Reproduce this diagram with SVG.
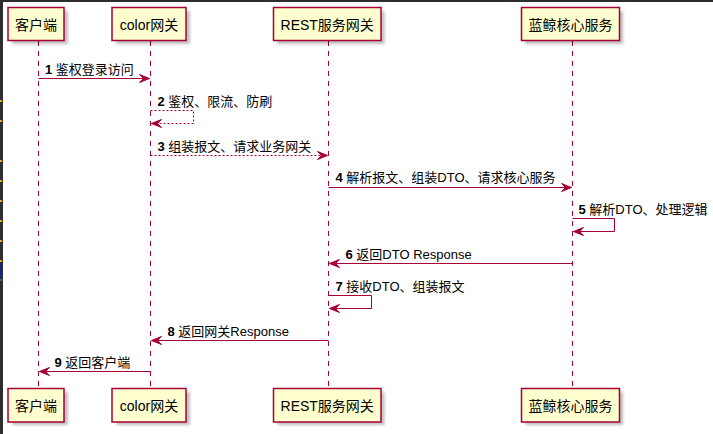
<svg xmlns="http://www.w3.org/2000/svg" width="713" height="434" viewBox="0 0 713 434">
<style>
.box{fill:#FEFECE;stroke:#A80036;stroke-width:1.5}
.shadow{fill:#000;opacity:0.25}
.life{stroke:#A80036;stroke-width:1;stroke-dasharray:5,5;fill:none}
.msg{stroke:#A80036;stroke-width:1;fill:none}
.dash{stroke-dasharray:2,2}
.head{fill:#A80036;stroke:#A80036;stroke-width:1}
.pt{font-family:"Liberation Sans","Noto Sans CJK SC",sans-serif;font-size:14px;fill:#000;text-anchor:middle}
.lt{font-family:"Liberation Sans","Noto Sans CJK SC",sans-serif;font-size:13px;fill:#000}
.num{font-weight:bold}
</style>
<defs>
<filter id="blur" x="-20%" y="-20%" width="140%" height="140%"><feGaussianBlur stdDeviation="1.5"/></filter>
</defs>
<rect x="0" y="0" width="713" height="434" fill="#FFFFFF"/>
<rect x="0" y="0" width="713" height="2" fill="#2d2d2d"/>
<rect x="0" y="0" width="3" height="434" fill="#2d2d2d"/>
<g id="edge-marks" fill="#E8A317">
<rect x="0" y="100" width="2" height="2"/>
<rect x="0" y="120" width="2" height="2"/>
<rect x="0" y="160" width="2" height="2"/>
<rect x="0" y="180" width="2" height="2"/>
<rect x="0" y="200" width="2" height="2"/>
<rect x="0" y="220" width="2" height="2"/>
<rect x="0" y="240" width="2" height="2"/>
<rect x="0" y="260" width="2" height="2"/>
<rect x="0" y="263" width="2" height="16" fill="#1a237e"/>
<rect x="0" y="279" width="2" height="2" fill="#2e7d32"/>
</g>
<g id="lifelines">
<line class="life" x1="38.5" y1="41" x2="38.5" y2="388"/>
<line class="life" x1="150.5" y1="41" x2="150.5" y2="388"/>
<line class="life" x1="328.5" y1="41" x2="328.5" y2="388"/>
<line class="life" x1="572.5" y1="41" x2="572.5" y2="388"/>
</g>
<g id="p-client">
<rect class="shadow" filter="url(#blur)" x="12" y="11" width="56" height="33"/>
<rect class="box" x="8" y="7.5" width="56" height="33"/>
<text class="pt" x="36" y="29.5">客户端</text>
<rect class="shadow" filter="url(#blur)" x="12" y="392" width="56" height="33"/>
<rect class="box" x="8" y="388.5" width="56" height="33.5"/>
<text class="pt" x="36" y="410.5">客户端</text>
</g>
<g id="p-color">
<rect class="shadow" filter="url(#blur)" x="116" y="11" width="74" height="33"/>
<rect class="box" x="112" y="7.5" width="74" height="33"/>
<text class="pt" x="149" y="29.5">color网关</text>
<rect class="shadow" filter="url(#blur)" x="116" y="392" width="74" height="33"/>
<rect class="box" x="112" y="388.5" width="74" height="33.5"/>
<text class="pt" x="149" y="410.5">color网关</text>
</g>
<g id="p-rest">
<rect class="shadow" filter="url(#blur)" x="277" y="11" width="107.5" height="33"/>
<rect class="box" x="273.5" y="7.5" width="107.5" height="33"/>
<text class="pt" x="327.2" y="29.5">REST服务网关</text>
<rect class="shadow" filter="url(#blur)" x="277" y="392" width="107.5" height="33"/>
<rect class="box" x="273.5" y="388.5" width="107.5" height="33.5"/>
<text class="pt" x="327.2" y="410.5">REST服务网关</text>
</g>
<g id="p-core">
<rect class="shadow" filter="url(#blur)" x="525" y="11" width="98" height="33"/>
<rect class="box" x="521.5" y="7.5" width="98" height="33"/>
<text class="pt" x="570.5" y="29.5">蓝鲸核心服务</text>
<rect class="shadow" filter="url(#blur)" x="525" y="392" width="98" height="33"/>
<rect class="box" x="521.5" y="388.5" width="98" height="33.5"/>
<text class="pt" x="570.5" y="410.5">蓝鲸核心服务</text>
</g>
<g id="connectors">
<line class="msg" x1="38.5" y1="78.5" x2="149.5" y2="78.5"/>
<polygon class="head" points="139.5,74.5 149.5,78.5 139.5,82.5 143.5,78.5"/>
<text class="lt" x="45" y="74"><tspan class="num">1</tspan> 鉴权登录访问</text>

<polyline class="msg dash" points="150.5,110.5 193.5,110.5 193.5,123.5 151.5,123.5"/>
<polygon class="head" points="161.5,119.5 151.5,123.5 161.5,127.5 157.5,123.5"/>
<text class="lt" x="157.5" y="106"><tspan class="num">2</tspan> 鉴权、限流、防刷</text>

<line class="msg dash" x1="150.5" y1="155.5" x2="327.5" y2="155.5"/>
<polygon class="head" points="317.5,151.5 327.5,155.5 317.5,159.5 321.5,155.5"/>
<text class="lt" x="157.5" y="151"><tspan class="num">3</tspan> 组装报文、请求业务网关</text>

<line class="msg" x1="328.5" y1="187.5" x2="571.5" y2="187.5"/>
<polygon class="head" points="561.5,183.5 571.5,187.5 561.5,191.5 565.5,187.5"/>
<text class="lt" x="335.5" y="182"><tspan class="num">4</tspan> 解析报文、组装DTO、请求核心服务</text>

<polyline class="msg" points="572.5,218.5 614.5,218.5 614.5,231.5 573.5,231.5"/>
<polygon class="head" points="583.5,227.5 573.5,231.5 583.5,235.5 579.5,231.5"/>
<text class="lt" x="578.5" y="214"><tspan class="num">5</tspan> 解析DTO、处理逻辑</text>

<line class="msg" x1="572.5" y1="263.5" x2="329.5" y2="263.5"/>
<polygon class="head" points="339.5,259.5 329.5,263.5 339.5,267.5 335.5,263.5"/>
<text class="lt" x="345.5" y="259"><tspan class="num">6</tspan> 返回DTO Response</text>

<polyline class="msg" points="328.5,295.5 371.5,295.5 371.5,308.5 329.5,308.5"/>
<polygon class="head" points="339.5,304.5 329.5,308.5 339.5,312.5 335.5,308.5"/>
<text class="lt" x="335.5" y="291"><tspan class="num">7</tspan> 接收DTO、组装报文</text>

<line class="msg" x1="328.5" y1="340.5" x2="151.5" y2="340.5"/>
<polygon class="head" points="161.5,336.5 151.5,340.5 161.5,344.5 157.5,340.5"/>
<text class="lt" x="167.5" y="335.5"><tspan class="num">8</tspan> 返回网关Response</text>

<line class="msg" x1="150.5" y1="371.5" x2="39.5" y2="371.5"/>
<polygon class="head" points="49.5,367.5 39.5,371.5 49.5,375.5 45.5,371.5"/>
<text class="lt" x="54.5" y="366.5"><tspan class="num">9</tspan> 返回客户端</text>
</g>
</svg>
